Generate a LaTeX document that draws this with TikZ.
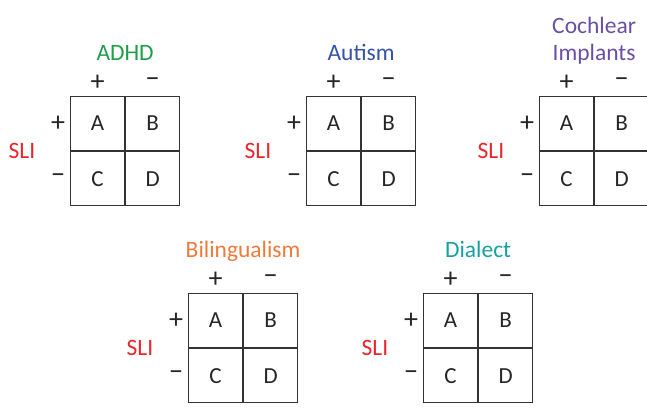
\documentclass[tikz,border=0pt]{standalone}
\usepackage{fontspec}
\setmainfont{Carlito}
\definecolor{cADHD}{HTML}{1F9E4A}
\definecolor{cAutism}{HTML}{3352A8}
\definecolor{cCoch}{HTML}{6A4FA6}
\definecolor{cBiling}{HTML}{F07A3A}
\definecolor{cDialect}{HTML}{17A0A0}
\definecolor{cSLI}{HTML}{E8262B}
\tikzset{
  cell/.style={draw=black!80, line width=1.1pt, minimum size=54pt, inner sep=0pt, text=black!85, font=\fontsize{23}{27}\selectfont},
  sign/.style={inner sep=0pt, text=black!85, font=\fontsize{28}{32}\selectfont},
  sli/.style={inner sep=0pt, text=cSLI, font=\fontsize{23.5}{28}\selectfont},
  ttl/.style={inner sep=0pt, font=\fontsize{23.5}{28}\selectfont}
}
\newcommand\blk[5]{%
  \node[cell, anchor=north west] (#1A) at (#2,-#3) {A};
  \node[cell, anchor=west] (#1B) at (#1A.east) {B};
  \node[cell, anchor=north] (#1C) at (#1A.south) {C};
  \node[cell, anchor=north] (#1D) at (#1B.south) {D};
  \node[sign] (#1cp) at ([yshift=13pt]#1A.north) {+};
  \node[sign] (#1cm) at ([yshift=13pt]#1B.north) {\char"2212};
  \node[sign] (#1rp) at ([xshift=-12pt]#1A.west) {+};
  \node[sign] (#1rm) at ([xshift=-12pt]#1C.west) {\char"2212};
  \node[sli] (#1sli) at ([xshift=-48pt]#1A.south west) {SLI};
  \node[ttl, anchor=base, text=#5] (#1t) at ([yshift=36pt]#1A.north east) {#4};
}
\begin{document}
\begin{tikzpicture}[x=1pt,y=1pt]
\useasboundingbox (0,0) rectangle (647,-410);
\blk{a}{70}{96}{ADHD}{cADHD}
\blk{b}{306}{96}{Autism}{cAutism}
\blk{c}{539}{96}{Implants}{cCoch}
\node[ttl, anchor=base, text=cCoch] (ct2) at ([yshift=27pt]ct.base) {Cochlear};
\blk{d}{188}{293}{Bilingualism}{cBiling}
\blk{e}{423}{293}{Dialect}{cDialect}
\end{tikzpicture}
\end{document}
